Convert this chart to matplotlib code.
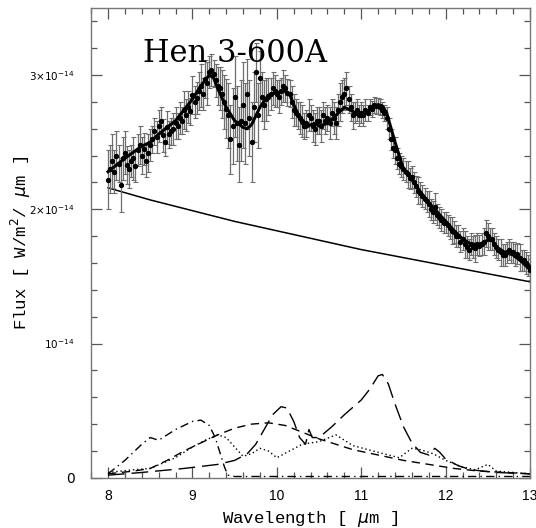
import matplotlib
matplotlib.use("Agg")
import matplotlib.pyplot as plt
from matplotlib.ticker import MultipleLocator

# observed spectrum (flux in units of 1e-14 W/m^2/um), 0.025 um sampling
wave = [8.000, 8.025, 8.050, 8.075, 8.100, 8.125, 8.150, 8.175, 8.200, 8.225,
        8.250, 8.275, 8.300, 8.325, 8.350, 8.375, 8.400, 8.425, 8.450, 8.475,
        8.500, 8.525, 8.550, 8.575, 8.600, 8.625, 8.650, 8.675, 8.700, 8.725,
        8.750, 8.775, 8.800, 8.825, 8.850, 8.875, 8.900, 8.925, 8.950, 8.975,
        9.000, 9.025, 9.050, 9.075, 9.100, 9.125, 9.150, 9.175, 9.200, 9.225,
        9.250, 9.275, 9.300, 9.325, 9.350, 9.375, 9.400, 9.425, 9.450, 9.475,
        9.500, 9.525, 9.550, 9.575, 9.600, 9.625, 9.650, 9.675, 9.700, 9.725,
        9.750, 9.775, 9.800, 9.825, 9.850, 9.875, 9.900, 9.925, 9.950, 9.975,
        10.000, 10.025, 10.050, 10.075, 10.100, 10.125, 10.150, 10.175, 10.200, 10.225,
        10.250, 10.275, 10.300, 10.325, 10.350, 10.375, 10.400, 10.425, 10.450, 10.475,
        10.500, 10.525, 10.550, 10.575, 10.600, 10.625, 10.650, 10.675, 10.700, 10.725,
        10.750, 10.775, 10.800, 10.825, 10.850, 10.875, 10.900, 10.925, 10.950, 10.975,
        11.000, 11.025, 11.050, 11.075, 11.100, 11.125, 11.150, 11.175, 11.200, 11.225,
        11.250, 11.275, 11.300, 11.325, 11.350, 11.375, 11.400, 11.425, 11.450, 11.475,
        11.500, 11.525, 11.550, 11.575, 11.600, 11.625, 11.650, 11.675, 11.700, 11.725,
        11.750, 11.775, 11.800, 11.825, 11.850, 11.875, 11.900, 11.925, 11.950, 11.975,
        12.000, 12.025, 12.050, 12.075, 12.100, 12.125, 12.150, 12.175, 12.200, 12.225,
        12.250, 12.275, 12.300, 12.325, 12.350, 12.375, 12.400, 12.425, 12.450, 12.475,
        12.500, 12.525, 12.550, 12.575, 12.600, 12.625, 12.650, 12.675, 12.700, 12.725,
        12.750, 12.775, 12.800, 12.825, 12.850, 12.875, 12.900, 12.925, 12.950, 12.975,
        13.000]
flux = [2.22, 2.30, 2.36, 2.28, 2.40, 2.34, 2.18, 2.38, 2.42, 2.33,
        2.30, 2.36, 2.38, 2.32, 2.44, 2.48, 2.40, 2.45, 2.36, 2.42,
        2.48, 2.52, 2.58, 2.54, 2.62, 2.66, 2.55, 2.50, 2.61, 2.56,
        2.58, 2.60, 2.64, 2.62, 2.68, 2.66, 2.74, 2.70, 2.76, 2.73,
        2.85, 2.80, 2.83, 2.88, 2.92, 2.86, 2.97, 2.94, 3.02, 3.04,
        3.01, 2.96, 2.92, 2.90, 2.86, 2.80, 2.75, 2.70, 2.52, 2.62,
        2.84, 2.64, 2.48, 2.66, 2.78, 2.64, 2.86, 2.68, 2.50, 2.76,
        3.02, 2.70, 2.98, 2.84, 2.78, 2.82, 2.84, 2.86, 2.90, 2.88,
        2.86, 2.84, 2.88, 2.92, 2.90, 2.87, 2.86, 2.80, 2.74, 2.72,
        2.70, 2.68, 2.66, 2.62, 2.64, 2.70, 2.68, 2.62, 2.60, 2.66,
        2.66, 2.62, 2.70, 2.66, 2.68, 2.64, 2.72, 2.68, 2.64, 2.74,
        2.80, 2.84, 2.86, 2.90, 2.82, 2.76, 2.70, 2.72, 2.74, 2.70,
        2.72, 2.70, 2.74, 2.72, 2.76, 2.75, 2.78, 2.77, 2.77, 2.76,
        2.74, 2.72, 2.68, 2.60, 2.52, 2.46, 2.44, 2.38, 2.34, 2.32,
        2.30, 2.28, 2.26, 2.23, 2.24, 2.20, 2.17, 2.14, 2.12, 2.10,
        2.08, 2.06, 2.04, 2.00, 1.98, 2.02, 1.96, 1.94, 1.92, 1.90,
        1.90, 1.88, 1.86, 1.84, 1.83, 1.80, 1.80, 1.76, 1.78, 1.74,
        1.72, 1.70, 1.74, 1.72, 1.71, 1.74, 1.73, 1.74, 1.76, 1.82,
        1.80, 1.78, 1.78, 1.74, 1.72, 1.70, 1.68, 1.66, 1.66, 1.68,
        1.70, 1.68, 1.68, 1.66, 1.67, 1.64, 1.62, 1.62, 1.60, 1.58,
        1.55]
err = [0.22, 0.18, 0.20, 0.16, 0.18, 0.14, 0.20, 0.16, 0.16, 0.14,
       0.14, 0.12, 0.16, 0.12, 0.12, 0.14, 0.14, 0.12, 0.12, 0.14,
       0.12, 0.10, 0.10, 0.12, 0.12, 0.10, 0.12, 0.10, 0.12, 0.10,
       0.10, 0.12, 0.12, 0.10, 0.12, 0.10, 0.14, 0.12, 0.12, 0.10,
       0.14, 0.12, 0.12, 0.14, 0.16, 0.12, 0.14, 0.16, 0.12, 0.12,
       0.10, 0.12, 0.14, 0.16, 0.18, 0.20, 0.22, 0.24, 0.26, 0.28,
       0.30, 0.28, 0.28, 0.30, 0.32, 0.30, 0.26, 0.28, 0.30, 0.26,
       0.22, 0.24, 0.20, 0.18, 0.18, 0.16, 0.14, 0.12, 0.12, 0.12,
       0.10, 0.12, 0.10, 0.12, 0.10, 0.10, 0.10, 0.12, 0.12, 0.10,
       0.10, 0.12, 0.12, 0.10, 0.10, 0.12, 0.10, 0.12, 0.12, 0.10,
       0.10, 0.12, 0.10, 0.10, 0.10, 0.12, 0.10, 0.12, 0.12, 0.12,
       0.14, 0.12, 0.12, 0.12, 0.10, 0.10, 0.10, 0.08, 0.08, 0.08,
       0.08, 0.08, 0.08, 0.06, 0.06, 0.06, 0.06, 0.06, 0.06, 0.06,
       0.06, 0.06, 0.08, 0.08, 0.08, 0.08, 0.10, 0.08, 0.08, 0.08,
       0.08, 0.08, 0.10, 0.08, 0.08, 0.08, 0.08, 0.10, 0.08, 0.08,
       0.08, 0.08, 0.10, 0.08, 0.08, 0.10, 0.08, 0.08, 0.08, 0.08,
       0.08, 0.08, 0.08, 0.10, 0.08, 0.08, 0.08, 0.08, 0.08, 0.10,
       0.08, 0.08, 0.08, 0.08, 0.10, 0.08, 0.08, 0.08, 0.10, 0.10,
       0.10, 0.08, 0.08, 0.08, 0.08, 0.08, 0.10, 0.08, 0.08, 0.08,
       0.08, 0.08, 0.08, 0.08, 0.08, 0.10, 0.08, 0.08, 0.08, 0.08,
       0.08]

# model fit
fit_wave = [8.0, 8.2, 8.4, 8.5, 8.6, 8.8, 9.0, 9.1, 9.2, 9.25, 9.3, 9.4, 9.5,
            9.6, 9.65, 9.7, 9.8, 9.9, 10.0, 10.1, 10.15, 10.2, 10.3, 10.35,
            10.4, 10.45, 10.5, 10.6, 10.7, 10.8, 10.9, 11.0, 11.1, 11.2, 11.25,
            11.3, 11.4, 11.5, 11.6, 11.7, 11.8, 11.9, 12.0, 12.1, 12.2, 12.3,
            12.4, 12.5, 12.55, 12.6, 12.7, 12.8, 12.9, 13.0]
fit_flux = [2.28, 2.38, 2.47, 2.50, 2.56, 2.66, 2.82, 2.92, 3.00, 2.98, 2.90,
            2.76, 2.66, 2.61, 2.60, 2.63, 2.76, 2.85, 2.87, 2.88, 2.86, 2.78,
            2.64, 2.61, 2.63, 2.64, 2.62, 2.64, 2.70, 2.76, 2.73, 2.69, 2.74,
            2.78, 2.77, 2.72, 2.50, 2.30, 2.22, 2.13, 2.05, 1.98, 1.91, 1.84,
            1.78, 1.74, 1.74, 1.77, 1.77, 1.72, 1.68, 1.66, 1.61, 1.55]

# continuum
cont_wave = [8.0, 8.5, 9.0, 9.5, 10.0, 10.5, 11.0, 11.5, 12.0, 12.5, 13.0]
cont_flux = [2.16, 2.07, 1.99, 1.91, 1.84, 1.77, 1.70, 1.64, 1.58, 1.52, 1.46]

# dust components
dd_wave = [8.0, 8.2, 8.4, 8.5, 8.6, 8.7, 8.8, 8.9, 9.0, 9.1, 9.2, 9.27,
           9.33, 9.38, 9.42, 9.5, 10.0, 11.0, 12.0, 13.0]
dd_flux = [0.03, 0.13, 0.25, 0.30, 0.28, 0.32, 0.36, 0.39, 0.42, 0.43, 0.39,
           0.30, 0.18, 0.08, 0.02, 0.01, 0.01, 0.01, 0.01, 0.01]

sd_wave = [8.0, 8.3, 8.5, 8.7, 8.9, 9.1, 9.3, 9.5, 9.7, 9.9, 10.1, 10.3,
           10.5, 10.7, 10.9, 11.2, 11.5, 11.8, 12.1, 12.4, 12.7, 13.0]
sd_flux = [0.03, 0.05, 0.07, 0.13, 0.20, 0.26, 0.32, 0.37, 0.40, 0.41, 0.39,
           0.34, 0.29, 0.25, 0.21, 0.17, 0.13, 0.10, 0.07, 0.05, 0.04, 0.03]

ld_wave = [8.0, 8.4, 8.9, 9.3, 9.5, 9.65, 9.75, 9.85, 9.95, 10.05, 10.12,
           10.2, 10.27, 10.34, 10.38, 10.42, 10.5, 10.65, 10.8, 11.0, 11.1,
           11.2, 11.25, 11.32, 11.4, 11.5, 11.6, 11.7, 11.8, 11.87, 11.93,
           12.0, 12.15, 12.3, 12.6, 13.0]
ld_flux = [0.02, 0.04, 0.07, 0.10, 0.13, 0.18, 0.25, 0.36, 0.47, 0.53, 0.52,
           0.42, 0.30, 0.25, 0.36, 0.30, 0.30, 0.38, 0.47, 0.58, 0.66, 0.76,
           0.77, 0.70, 0.55, 0.38, 0.26, 0.19, 0.17, 0.22, 0.19, 0.14, 0.09,
           0.06, 0.04, 0.03]

dot_wave = [8.0, 8.3, 8.5, 8.8, 9.0, 9.15, 9.3, 9.4, 9.5, 9.6, 9.7, 9.8,
            9.9, 10.0, 10.15, 10.3, 10.5, 10.7, 10.9, 11.2, 11.45, 11.6,
            11.7, 11.85, 12.0, 12.2, 12.35, 12.5, 12.6, 12.8, 13.0]
dot_flux = [0.04, 0.06, 0.07, 0.15, 0.23, 0.28, 0.32, 0.30, 0.23, 0.16,
            0.18, 0.22, 0.20, 0.15, 0.20, 0.25, 0.27, 0.32, 0.24, 0.19, 0.15,
            0.22, 0.21, 0.18, 0.13, 0.08, 0.06, 0.10, 0.05, 0.04, 0.03]

scale = 1e-14

fig = plt.figure(figsize=(5.36, 5.28), dpi=100)
ax = fig.add_axes([0.170, 0.095, 0.819, 0.890])

ax.errorbar(wave, [f * scale for f in flux], yerr=[e * scale for e in err],
            fmt='o', ms=2.8, color='black', ecolor='#6e6e6e', elinewidth=0.9,
            capsize=1.8, capthick=0.8, zorder=3)
ax.plot(fit_wave, [f * scale for f in fit_flux], color='black', lw=2.2, zorder=4)
ax.plot(cont_wave, [f * scale for f in cont_flux], color='black', lw=1.1)

ax.plot(dd_wave, [f * scale for f in dd_flux], color='black', lw=1.0,
        linestyle=(0, (6, 3, 1, 3)))
ax.plot(sd_wave, [f * scale for f in sd_flux], color='black', lw=1.0,
        linestyle=(0, (6, 4)))
ax.plot(ld_wave, [f * scale for f in ld_flux], color='black', lw=1.0,
        linestyle=(0, (12, 5)))
ax.plot(dot_wave, [f * scale for f in dot_flux], color='black', lw=1.0,
        linestyle=(0, (1, 2)))

ax.set_xlim(7.8, 13.0)
ax.set_ylim(0, 3.5e-14)

ax.xaxis.set_major_locator(MultipleLocator(1))
ax.xaxis.set_minor_locator(MultipleLocator(0.2))
ax.yaxis.set_major_locator(MultipleLocator(1e-14))
ax.yaxis.set_minor_locator(MultipleLocator(0.2e-14))
ax.tick_params(which='both', direction='in', top=True, right=True,
               color='#555555', width=0.9)
ax.tick_params(which='major', length=8)
ax.tick_params(which='minor', length=4.5)
ax.tick_params(axis='x', labelsize=10, pad=8)
for lbl in ax.get_xticklabels():
    lbl.set_family('Liberation Sans')

ax.set_yticks([0, 1e-14, 2e-14, 3e-14])
ax.set_yticklabels(['0', r'$10^{-14}$', r'$2{\times}10^{-14}$',
                    r'$3{\times}10^{-14}$'])
ax.tick_params(axis='y', labelsize=7.5, pad=12)
ax.get_yticklabels()[0].set_fontsize(10)

for s in ax.spines.values():
    s.set_color('#777777')
    s.set_linewidth(1.0)

ax.set_xlabel(r'Wavelength [ $\mu$m ]', family='Liberation Mono', fontsize=12.5,
              labelpad=4)
ax.set_ylabel(r'Flux [ W/m$^2$/ $\mu$m ]', family='Liberation Mono', fontsize=12.5)
ax.yaxis.set_label_coords(-0.132, 0.5)

ax.text(8.42, 3.10e-14, 'Hen 3-600A', family='DejaVu Serif', fontsize=22,
        va='baseline', ha='left')

fig.savefig('out.png', dpi=100)
